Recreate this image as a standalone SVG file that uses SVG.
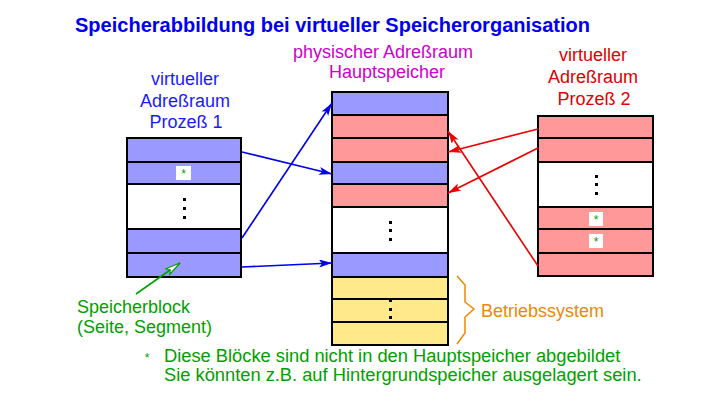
<svg xmlns="http://www.w3.org/2000/svg" width="727" height="407" viewBox="0 0 727 407">
<defs>
<style>
text{font-family:"Liberation Sans",Arial,sans-serif;font-size:18px}
.bl{fill:#9999ff;stroke:#000;stroke-width:2}
.rd{fill:#ff9999;stroke:#000;stroke-width:2}
.ye{fill:#ffe98a;stroke:#000;stroke-width:2}
.wh{fill:#fff;stroke:#000;stroke-width:2}
.dot{fill:#000}
.sb{fill:#fff}
.st{fill:#00a000;font-size:12px}
.fn{font-size:18.3px}
.ab{stroke:#0000ee;stroke-width:1.6;fill:none}
.ar{stroke:#ee0000;stroke-width:1.6;fill:none}
</style>
<marker id="mb" markerUnits="userSpaceOnUse" markerWidth="14" markerHeight="10" refX="13" refY="4" orient="auto"><path d="M0,0 L13,4 L0,8 L3,4 z" fill="#0000ee"/></marker>
<marker id="mr" markerUnits="userSpaceOnUse" markerWidth="14" markerHeight="10" refX="13" refY="4" orient="auto"><path d="M0,0 L13,4 L0,8 L3,4 z" fill="#ee0000"/></marker>
<marker id="mg" markerUnits="userSpaceOnUse" markerWidth="18" markerHeight="10" refX="16" refY="4" orient="auto"><path d="M1,0.5 L16,4 L1,7.5 L4,4 z" fill="#fff" stroke="#00a000" stroke-width="1.2"/></marker>
</defs>
<rect width="727" height="407" fill="#fff"/>
<text x="75" y="32" font-weight="bold" fill="#0000ee" style="font-size:20px" textLength="515" lengthAdjust="spacingAndGlyphs">Speicherabbildung bei virtueller Speicherorganisation</text>

<g id="label-p1" fill="#1a1aff" text-anchor="middle">
<text x="185" y="85">virtueller</text>
<text x="185" y="107">Adreßraum</text>
<text x="186" y="128">Prozeß 1</text>
</g>
<g id="label-phys" fill="#cc00cc" text-anchor="middle">
<text x="383" y="58">physischer Adreßraum</text>
<text x="387" y="78">Hauptspeicher</text>
</g>
<g id="label-p2" fill="#dd0000" text-anchor="middle">
<text x="593" y="61">virtueller</text>
<text x="593" y="83">Adreßraum</text>
<text x="594" y="105">Prozeß 2</text>
</g>

<g id="process1">
<rect class="bl" x="127" y="138" width="114" height="24"/>
<rect class="bl" x="127" y="162" width="114" height="22"/>
<rect class="wh" x="127" y="184" width="114" height="45"/>
<rect class="bl" x="127" y="229" width="114" height="24"/>
<rect class="bl" x="127" y="253" width="114" height="24"/>
<rect class="sb" x="176" y="166" width="15" height="14"/>
<text class="st" x="183.5" y="178" text-anchor="middle">*</text>
<rect class="dot" x="183" y="198" width="3" height="3"/>
<rect class="dot" x="183" y="207" width="3" height="3"/>
<rect class="dot" x="183" y="216" width="3" height="3"/>
</g>

<g id="mainmemory">
<rect class="bl" x="332" y="92" width="116" height="23"/>
<rect class="rd" x="332" y="115" width="116" height="23"/>
<rect class="rd" x="332" y="138" width="116" height="24"/>
<rect class="bl" x="332" y="162" width="116" height="22"/>
<rect class="rd" x="332" y="184" width="116" height="23"/>
<rect class="wh" x="332" y="207" width="116" height="46"/>
<rect class="bl" x="332" y="253" width="116" height="24"/>
<rect class="ye" x="332" y="277" width="116" height="22"/>
<rect class="ye" x="332" y="299" width="116" height="23"/>
<rect class="ye" x="332" y="322" width="116" height="23"/>
<rect class="dot" x="389" y="221" width="3" height="3"/>
<rect class="dot" x="389" y="229" width="3" height="3"/>
<rect class="dot" x="389" y="238" width="3" height="3"/>
<rect class="dot" x="389" y="299" width="3" height="3"/>
<rect class="dot" x="389" y="308" width="3" height="3"/>
<rect class="dot" x="389" y="316" width="3" height="3"/>
</g>

<g id="process2">
<rect class="rd" x="538" y="116" width="115" height="22"/>
<rect class="rd" x="538" y="138" width="115" height="24"/>
<rect class="wh" x="538" y="162" width="115" height="45"/>
<rect class="rd" x="538" y="207" width="115" height="22"/>
<rect class="rd" x="538" y="229" width="115" height="24"/>
<rect class="rd" x="538" y="253" width="115" height="23"/>
<rect class="sb" x="589" y="212" width="14" height="14"/>
<text class="st" x="596" y="224" text-anchor="middle">*</text>
<rect class="sb" x="589" y="234" width="14" height="14"/>
<text class="st" x="596" y="246" text-anchor="middle">*</text>
<rect class="dot" x="595" y="175" width="3" height="3"/>
<rect class="dot" x="595" y="183" width="3" height="3"/>
<rect class="dot" x="595" y="192" width="3" height="3"/>
</g>

<g id="connectors">
<line class="ab" x1="242" y1="152" x2="332" y2="174" marker-end="url(#mb)"/>
<line class="ab" x1="242" y1="238" x2="332" y2="103" marker-end="url(#mb)"/>
<line class="ab" x1="242" y1="267" x2="332" y2="263" marker-end="url(#mb)"/>
<line class="ar" x1="538" y1="129" x2="448" y2="152" marker-end="url(#mr)"/>
<line class="ar" x1="538" y1="148" x2="448" y2="193" marker-end="url(#mr)"/>
<line class="ar" x1="538" y1="266" x2="448" y2="131" marker-end="url(#mr)"/>
<line x1="136" y1="294" x2="180" y2="263" stroke="#00a000" stroke-width="1.6" marker-end="url(#mg)"/>
</g>

<g id="os-brace">
<path d="M457,276 L465,285 L465,302 L474,309 L465,317 L465,333 L457,344" fill="none" stroke="#ee8800" stroke-width="1.5"/>
<text x="481" y="317" fill="#ee8800">Betriebssystem</text>
</g>

<g id="speicherblock-label" fill="#00a000">
<text x="77" y="313">Speicherblock</text>
<text x="77" y="333">(Seite, Segment)</text>
</g>

<g id="footnote" fill="#00a000">
<text class="st" x="147" y="362" text-anchor="middle">*</text>
<text class="fn" x="164" y="362">Diese Blöcke sind nicht in den Hauptspeicher abgebildet</text>
<text class="fn" x="164" y="381">Sie könnten z.B. auf Hintergrundspeicher ausgelagert sein.</text>
</g>
</svg>
